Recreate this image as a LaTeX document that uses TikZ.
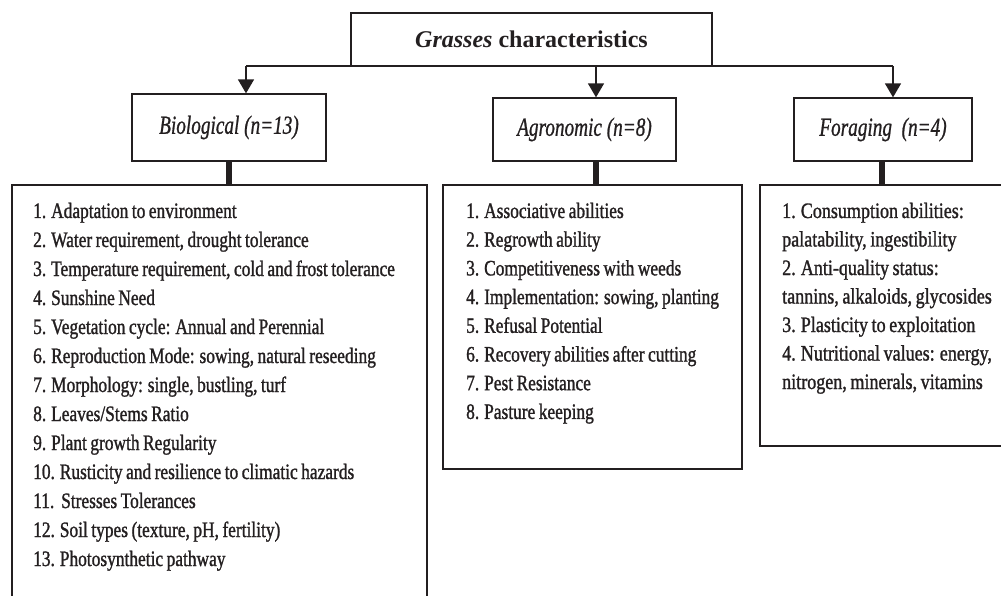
\documentclass[tikz,border=0pt]{standalone}
\usepackage{fontspec}
\setmainfont{Liberation Serif}
\newfontfamily\cond[FakeStretch=0.79, FakeBold=1.2, WordSpace=0.8]{Liberation Serif}
\newfontfamily\condw[FakeStretch=0.82, FakeBold=1.2, WordSpace=0.8]{Liberation Serif}
\newfontfamily\condh[FakeStretch=0.74, FakeBold=0.8]{Liberation Serif}
\usetikzlibrary{arrows.meta}
\definecolor{ink}{HTML}{231F20}
\tikzset{
  box/.style={draw=ink, line width=1.3pt, inner sep=0pt},
  link/.style={draw=ink, line width=1.5pt},
  tip/.style={link, -{Triangle[width=16pt,length=14pt]}},
  bar/.style={draw=ink, line width=6pt},
  head/.style={font=\condh\itshape\fontsize{26}{30}\selectfont, text=ink},
  item/.style={font=\cond\fontsize{22}{29}\selectfont, text=ink, anchor=base west, inner sep=0pt},
  itemw/.style={item, font=\condw\fontsize{22}{29}\selectfont}
}
\begin{document}
\begin{tikzpicture}[x=1pt,y=-1pt]
\useasboundingbox (0,0) rectangle (1001,596);
% title
\node[box, minimum width=361pt, minimum height=53pt, font=\fontsize{24}{28}\selectfont\bfseries, text=ink] (title) at (531.5,39.5) {\textit{Grasses} characteristics};
% category boxes
\node[box, minimum width=194pt, minimum height=67pt, head] (bio) at (229,127.5) {Biological (n=13)};
\node[box, minimum width=183pt, minimum height=63pt, head] (agro) at (584.5,129.5) {Agronomic (n=8)};
\node[box, minimum width=178pt, minimum height=63pt, head] (fora) at (883,129.5) {Foraging\ \ (n=4)};
% list boxes
\node[box, minimum width=415pt, minimum height=435pt] (bioL) at (219.5,402.5) {};
\node[box, minimum width=299pt, minimum height=284pt] (agroL) at (592.5,327) {};
\node[box, minimum width=250pt, minimum height=261pt] (foraL) at (885,315.5) {};
% connectors
\coordinate (hl) at (246,66);
\coordinate (hm) at (596,66);
\coordinate (hr) at (893,66);
\draw[link] (hl) -- (hr);
\draw[tip] (hl) -- (hl |- bio.north);
\draw[tip] (hm) -- (hm |- agro.north);
\draw[tip] (hr) -- (hr |- fora.north);
\draw[bar] (bio.south) -- (bio.south |- bioL.north);
\draw[bar] (hm |- agro.south) -- (hm |- agroL.north);
\draw[bar] (882,161) coordinate (fb) -- (fb |- foraL.north);
% lists
\foreach [count=\i] \t in {
  {1. Adaptation to environment},
  {2. Water requirement, drought tolerance},
  {3. Temperature requirement, cold and frost tolerance},
  {4. Sunshine Need},
  {5. Vegetation cycle: Annual and Perennial},
  {6. Reproduction Mode: sowing, natural reseeding},
  {7. Morphology: single, bustling, turf},
  {8. Leaves/Stems Ratio},
  {9. Plant growth Regularity},
  {10. Rusticity and resilience to climatic hazards},
  {11.\ \ Stresses Tolerances},
  {12. Soil types (texture, pH, fertility)},
  {13. Photosynthetic pathway}}
  \node[item] (b\i) at (33,{218+29*(\i-1)}) {\t};
\foreach [count=\i] \t in {
  {1. Associative abilities},
  {2. Regrowth ability},
  {3. Competitiveness with weeds},
  {4. Implementation: sowing, planting},
  {5. Refusal Potential},
  {6. Recovery abilities after cutting},
  {7. Pest Resistance},
  {8. Pasture keeping}}
  \node[item] (a\i) at (466,{218+28.7*(\i-1)}) {\t};
\foreach [count=\i] \t in {
  {1. Consumption abilities:},
  {palatability, ingestibility},
  {2. Anti-quality status:},
  {tannins, alkaloids, glycosides},
  {3. Plasticity to exploitation},
  {4. Nutritional values: energy,},
  {nitrogen, minerals, vitamins}}
  \node[itemw] (f\i) at (782,{218+28.5*(\i-1)}) {\t};
\end{tikzpicture}
\end{document}
